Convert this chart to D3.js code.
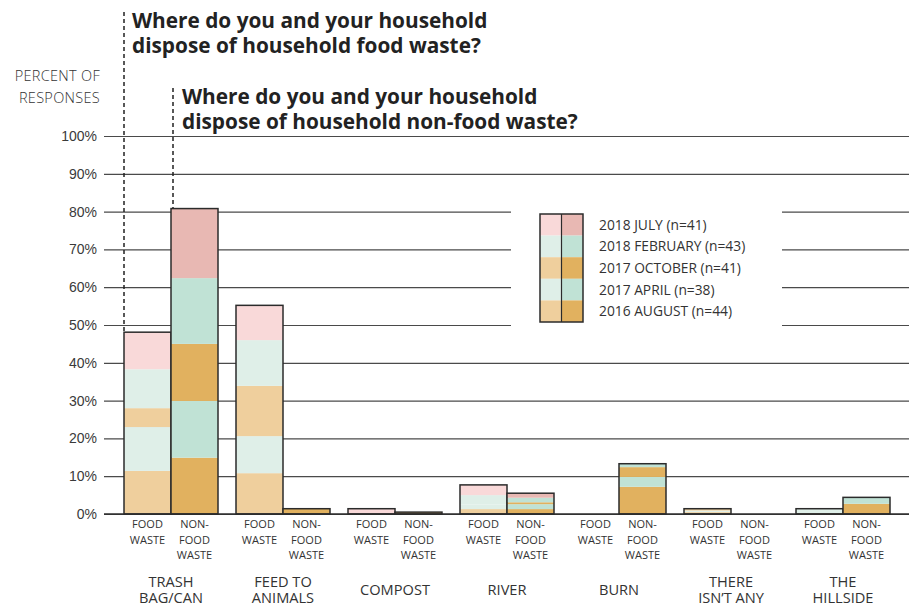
<!DOCTYPE html>
<html>
<head>
<meta charset="utf-8">
<script src="https://cdn.jsdelivr.net/npm/d3@7"></script>
<style>
  html, body { margin: 0; padding: 0; background: #fff; }
  svg { display: block; font-family: "Open Sans", "Noto Sans", sans-serif; }
</style>
</head>
<body>
<svg id="chart" width="909" height="606"></svg>
<script>
// Disposal destinations (group labels, one line per array item)
const categories = ["TRASH BAG/CAN", "FEED TO ANIMALS", "COMPOST", "RIVER", "BURN", "THERE ISN'T ANY", "THE HILLSIDE"];
const categoryLines = [["TRASH", "BAG/CAN"], ["FEED TO", "ANIMALS"], ["COMPOST"], ["RIVER"], ["BURN"], ["THERE", "ISN\u2019T ANY"], ["THE", "HILLSIDE"]];
const wasteTypes = ["food", "nonfood"];
const wasteTypeLines = [["FOOD", "WASTE"], ["NON-", "FOOD", "WASTE"]];

// Survey rounds, stacked bottom to top
const surveys = ["2016 AUGUST (n=44)", "2017 APRIL (n=38)", "2017 OCTOBER (n=41)", "2018 FEBRUARY (n=43)", "2018 JULY (n=41)"];

// Percent of responses, food waste, per category
const foodAug16 = [11.4, 10.8, 0, 1.3, 0, 0.5, 0.2];
const foodApr17 = [11.6, 9.8, 0, 1.2, 0, 0.4, 0];
const foodOct17 = [5.0, 13.3, 0, 0, 0, 0.5, 0];
const foodFeb18 = [10.3, 12.1, 0, 2.5, 0, 0, 1.2];
const foodJul18 = [9.8, 9.2, 1.4, 2.7, 0, 0, 0];

// Percent of responses, non-food waste, per category
const nonfoodAug16 = [14.9, 1.4, 0.5, 1.3, 7.2, 0, 2.7];
const nonfoodApr17 = [15.0, 0, 0, 1.3, 2.6, 0, 1.7];
const nonfoodOct17 = [15.1, 0, 0, 0.5, 2.6, 0, 0];
const nonfoodFeb18 = [17.4, 0, 0, 1.2, 0.9, 0, 0];
const nonfoodJul18 = [18.4, 0, 0, 1.2, 0, 0, 0];

const yTicks = [0, 10, 20, 30, 40, 50, 60, 70, 80, 90, 100];

// Light tones for food waste, deeper tones for non-food waste
const colors = {
  food:    ["#efcf9d", "#dfefe8", "#efcf9d", "#dfefe8", "#f9d9d9"],
  nonfood: ["#e1b15f", "#c0e2d5", "#e1b15f", "#c0e2d5", "#e8b8b3"]
};

const seriesByType = {
  food: [foodAug16, foodApr17, foodOct17, foodFeb18, foodJul18],
  nonfood: [nonfoodAug16, nonfoodApr17, nonfoodOct17, nonfoodFeb18, nonfoodJul18]
};

const svg = d3.select("#chart");

const y = d3.scaleLinear().domain([0, 100]).range([514, 136]);
const x = d3.scaleBand().domain(categories).range([115, 899]);
const xSub = d3.scaleBand().domain(wasteTypes).range([9, 103]);

// Gridlines and tick labels
const yAxis = d3.axisLeft(y).tickValues(yTicks).tickFormat(d => d + "%").tickSize(-805).tickPadding(7);
const gAxis = svg.append("g").attr("transform", "translate(104,0)").call(yAxis);
gAxis.select(".domain").remove();
gAxis.selectAll(".tick line").attr("stroke", "#4a4a4a").attr("stroke-width", 1.2);
gAxis.selectAll(".tick text").attr("fill", "#3a3a3a").attr("font-size", 14).attr("x", -7)
  .attr("font-weight", 400);

// White panel behind the legend, interrupting the gridlines
svg.append("rect").attr("x", 511).attr("y", 200).attr("width", 271).attr("height", 130).attr("fill", "#fff");

// Bars
const rows = categories.map((c, i) => {
  const r = { category: c };
  wasteTypes.forEach(t => surveys.forEach((s, k) => { r[t + k] = seriesByType[t][k][i]; }));
  return r;
});

wasteTypes.forEach(t => {
  const keys = surveys.map((s, k) => t + k);
  const stacked = d3.stack().keys(keys)(rows);
  const g = svg.append("g");
  stacked.forEach((layer, k) => {
    g.selectAll(null).data(layer.filter(d => d[1] - d[0] > 0)).join("rect")
      .attr("x", d => x(d.data.category) + xSub(t))
      .attr("width", xSub.bandwidth())
      .attr("y", d => y(d[1]))
      .attr("height", d => y(d[0]) - y(d[1]))
      .attr("fill", colors[t][k]);
  });
  // Outline around each whole stack
  g.selectAll(null).data(rows.filter(r => d3.sum(keys, kk => r[kk]) > 0)).join("rect")
    .attr("x", r => x(r.category) + xSub(t))
    .attr("width", xSub.bandwidth())
    .attr("y", r => y(d3.sum(keys, kk => r[kk])))
    .attr("height", r => y(0) - y(d3.sum(keys, kk => r[kk])))
    .attr("fill", "none").attr("stroke", "#2b2b2b").attr("stroke-width", 1.5);
});

// Baseline
svg.append("line").attr("x1", 104).attr("x2", 909).attr("y1", y(0)).attr("y2", y(0))
  .attr("stroke", "#2b2b2b").attr("stroke-width", 1.5);

// Waste type labels under each bar, one text per line
categories.forEach(c => {
  wasteTypes.forEach((t, ti) => {
    const cx = x(c) + xSub(t) + xSub.bandwidth() / 2;
    wasteTypeLines[ti].forEach((line, li) => {
      svg.append("text").attr("text-anchor", "middle").attr("font-size", 11)
        .attr("fill", "#333").attr("x", cx).attr("y", 528 + li * 15.5).text(line);
    });
  });
});

// Category labels, one text per line
categories.forEach((c, i) => {
  const cx = x(c) + x.bandwidth() / 2;
  const lines = categoryLines[i];
  const top = lines.length === 1 ? 595 : 587;
  lines.forEach((line, li) => {
    svg.append("text").attr("text-anchor", "middle").attr("font-size", 14.6)
      .attr("fill", "#333").attr("x", cx).attr("y", top + li * 16).text(line);
  });
});

// Y axis title
svg.append("text").attr("text-anchor", "end").attr("font-size", 14.5).attr("letter-spacing", 0.3)
  .attr("font-weight", 300).attr("fill", "#333").attr("x", 100).attr("y", 81).text("PERCENT OF");
svg.append("text").attr("text-anchor", "end").attr("font-size", 14.5).attr("letter-spacing", 0.3)
  .attr("font-weight", 300).attr("fill", "#333").attr("x", 100).attr("y", 103).text("RESPONSES");

// Question titles with dashed leaders down to the matching bars
const foodTop = d3.sum(seriesByType.food, s => s[0]);
const nonfoodTop = d3.sum(seriesByType.nonfood, s => s[0]);
const xFood = x(categories[0]) + xSub("food");
const xNonfood = x(categories[0]) + xSub("nonfood") + 2;

svg.append("line").attr("x1", xFood).attr("x2", xFood).attr("y1", 12).attr("y2", y(foodTop))
  .attr("stroke", "#222").attr("stroke-width", 1.5).attr("stroke-dasharray", "4,3");
svg.append("line").attr("x1", xNonfood).attr("x2", xNonfood).attr("y1", 88).attr("y2", y(nonfoodTop))
  .attr("stroke", "#222").attr("stroke-width", 1.5).attr("stroke-dasharray", "4,3");

const q1 = svg.append("text").attr("font-size", 20.8).attr("font-weight", 700).attr("fill", "#222")
  .attr("x", 132).attr("y", 28);
q1.append("tspan").attr("x", 132).attr("dy", 0).text("Where do you and your household");
q1.append("tspan").attr("x", 132).attr("dy", 25).text("dispose of household food waste?");

const q2 = svg.append("text").attr("font-size", 20.8).attr("font-weight", 700).attr("fill", "#222")
  .attr("x", 182).attr("y", 104);
q2.append("tspan").attr("x", 182).attr("dy", 0).text("Where do you and your household");
q2.append("tspan").attr("x", 182).attr("dy", 25).text("dispose of household non-food waste?");

// Legend: two-column swatch stack, top row is the latest survey
const legendRows = surveys.slice().reverse();
const ly = d3.scaleBand().domain(legendRows).range([214, 322]);
const lg = svg.append("g");
legendRows.forEach((s, i) => {
  const k = surveys.length - 1 - i;
  lg.append("rect").attr("x", 540).attr("y", ly(s)).attr("width", 21.5).attr("height", ly.bandwidth())
    .attr("fill", colors.food[k]);
  lg.append("rect").attr("x", 561.5).attr("y", ly(s)).attr("width", 21.5).attr("height", ly.bandwidth())
    .attr("fill", colors.nonfood[k]);
  lg.append("text").attr("x", 599).attr("y", ly(s) + ly.bandwidth() / 2).attr("dy", "0.36em")
    .attr("font-size", 13.8).attr("fill", "#333").text(s);
});
lg.append("rect").attr("x", 540).attr("y", 214).attr("width", 43).attr("height", 108)
  .attr("fill", "none").attr("stroke", "#2b2b2b").attr("stroke-width", 1.5);
lg.append("line").attr("x1", 561.5).attr("x2", 561.5).attr("y1", 214).attr("y2", 322)
  .attr("stroke", "#2b2b2b").attr("stroke-width", 1.2);
</script>
</body>
</html>
